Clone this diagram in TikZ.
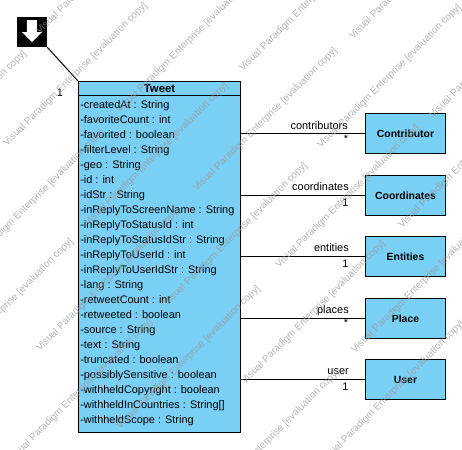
\documentclass[tikz,border=0pt]{standalone}
\usepackage{fontspec}
\setmainfont{Liberation Sans}
\definecolor{classblue}{RGB}{122,207,245}
\definecolor{markgray}{RGB}{150,150,150}

\tikzset{
  classbox/.style={draw=black, line width=0.75pt, fill=classblue, minimum width=60.2pt, minimum height=30pt, font=\fontsize{7.8}{10}\selectfont\bfseries},
  rolelabel/.style={anchor=east, inner sep=0pt, font=\fontsize{8.2}{9}\selectfont},
  multlabel/.style={inner sep=0pt, font=\fontsize{8.2}{9}\selectfont},
  assoc/.style={draw=black, line width=0.75pt},
  watermark/.style={anchor=west, rotate=45, inner sep=0pt, text=markgray, opacity=0.7, font=\fontsize{7.5}{9}\selectfont}
}

\begin{document}
\begin{tikzpicture}[x=0.75pt, y=-0.75pt]
\useasboundingbox (0,0) rectangle (462,450);

% root marker
\node[fill=black, minimum size=22.5pt, inner sep=0pt] (root) at (32,32) {};
\fill[white] (27,20) -- (37,20) -- (37,32) -- (42,32) -- (32,42) -- (22,32) -- (27,32) -- cycle;

% class
\node[draw=black, line width=0.75pt, fill=classblue, minimum width=121.5pt, minimum height=263.6pt, inner sep=0pt] (tweet) at (159.5,257.2) {};
\node[draw=black, line width=0.75pt, minimum width=121.5pt, minimum height=10.5pt, inner sep=0pt, font=\fontsize{8.5}{9}\selectfont\bfseries] (tweetname) at (159.5,88.5) {Tweet};
\node[anchor=north west, align=left, inner sep=0pt, font=\fontsize{8.2}{11.25}\selectfont] (tweetattrs) at (80,100)
  {-createdAt : String\\-favoriteCount : int\\-favorited : boolean\\-filterLevel : String\\-geo : String\\-id : int\\-idStr : String\\-inReplyToScreenName : String\\-inReplyToStatusId : int\\-inReplyToStatusIdStr : String\\-inReplyToUserId : int\\-inReplyToUserIdStr : String\\-lang : String\\-retweetCount : int\\-retweeted : boolean\\-source : String\\-text : String\\-truncated : boolean\\-possiblySensitive : boolean\\-withheldCopyright : boolean\\-withheldInCountries : String[]\\-withheldScope : String};

% targets
\node[classbox] (contributor) at (405.5,133.5) {Contributor};
\node[classbox] (coordinates) at (405.5,195.5) {Coordinates};
\node[classbox] (entities) at (405.5,256.5) {Entities};
\node[classbox] (place) at (405.5,318.5) {Place};
\node[classbox] (user) at (405.5,379.5) {User};

% connectors
\draw[assoc] (root.south east) -- (tweet.north west);
\foreach \target in {contributor,coordinates,entities,place,user}
  \draw[assoc] (tweet.east |- \target.west) -- (\target.west);

% labels
\node[multlabel] (rootmult) at (60,93) {1};
\node[rolelabel] (contributorsrole) at (348,125.5) {contributors};
\node[multlabel] (contributorsmult) at (346,139) {*};
\node[rolelabel] (coordinatesrole) at (349,187) {coordinates};
\node[multlabel] (coordinatesmult) at (345.5,203) {1};
\node[rolelabel] (entitiesrole) at (349,248) {entities};
\node[multlabel] (entitiesmult) at (345.5,264) {1};
\node[rolelabel] (placesrole) at (349,311) {places};
\node[multlabel] (placesmult) at (346,323) {*};
\node[rolelabel] (userrole) at (349,372) {user};
\node[multlabel] (usermult) at (345.5,387) {1};

% evaluation stamps
\foreach \mx/\my [count=\i] in {38/33,118/112,195/190,277/267,353/352,5/145,86/225,165/305,243/383,322/463,-116/193,-38/272,38/350,118/428,197/512,241/70,319/147,400/227,351/38,431/117,-69/381,10/461}
  \node[watermark] (mark\i) at (\mx,\my) {Visual Paradigm Enterprise [evaluation copy]};
\end{tikzpicture}
\end{document}
